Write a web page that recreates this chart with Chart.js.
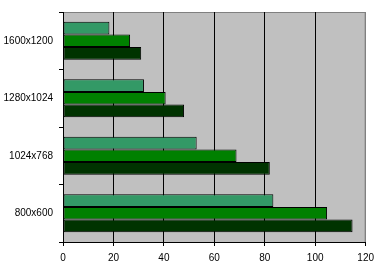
<!DOCTYPE html>
<html><head><meta charset="utf-8">
<script src="https://cdn.jsdelivr.net/npm/chart.js@4"></script>
<style>html,body{margin:0;padding:0;background:#fff}#w{width:380px;height:270px}</style>
</head><body><div id="w"><canvas id="c"></canvas></div>
<script>
const categories = ['1600x1200', '1280x1024', '1024x768', '800x600'];
const seriesA = [18.4, 32.1, 53, 83.4];
const seriesB = [26.6, 40.7, 68.8, 104.7];
const seriesC = [31, 48, 82, 114.8];
const xTicks = [0, 20, 40, 60, 80, 100, 120];

const bgPlugin = {
  id: 'plotbg',
  beforeDraw(chart) {
    const a = chart.chartArea, ctx = chart.ctx;
    ctx.save();
    ctx.fillStyle = '#C0C0C0';
    ctx.fillRect(a.left, a.top, a.right - a.left, a.bottom - a.top);
    ctx.strokeStyle = '#808080';
    ctx.lineWidth = 1;
    ctx.beginPath();
    ctx.moveTo(a.left, a.top + 0.5);
    ctx.lineTo(a.right - 0.5, a.top + 0.5);
    ctx.lineTo(a.right - 0.5, a.bottom);
    ctx.stroke();
    ctx.restore();
  }
};

const font = { family: 'Arial, "Liberation Sans", sans-serif', size: 10 };
const mk = (data, color) => ({
  data, backgroundColor: color, borderColor: '#000', borderWidth: 1, borderSkipped: false,
  categoryPercentage: 0.66, barPercentage: 1
});

new Chart(document.getElementById('c'), {
  type: 'bar',
  data: {
    labels: categories,
    datasets: [mk(seriesA, '#339966'), mk(seriesB, '#008000'), mk(seriesC, '#003300')]
  },
  options: {
    indexAxis: 'y',
    responsive: true,
    maintainAspectRatio: false,
    animation: false,
    layout: { padding: { top: 5, right: 13, left: 0, bottom: 0 } },
    plugins: { legend: { display: false }, tooltip: { enabled: false } },
    scales: {
      x: {
        min: 0, max: 120,
        afterBuildTicks(s) { s.ticks = xTicks.map(v => ({ value: v })); },
        afterFit(s) { s.height = 28; },
        grid: {
          color: c => (c.tick && c.tick.value === 120) ? '#808080' : '#000',
          tickColor: '#000',
          tickLength: 4,
          lineWidth: 1
        },
        border: { color: '#000' },
        ticks: { font, color: '#000', padding: 6, maxRotation: 0 }
      },
      y: {
        afterFit(s) { s.width = 63; },
        offset: true,
        grid: { offset: true, drawOnChartArea: false, color: '#000', tickLength: 4 },
        border: { color: '#000' },
        ticks: { font, color: '#000', padding: 6 }
      }
    }
  },
  plugins: [bgPlugin]
});
</script>
</body></html>
